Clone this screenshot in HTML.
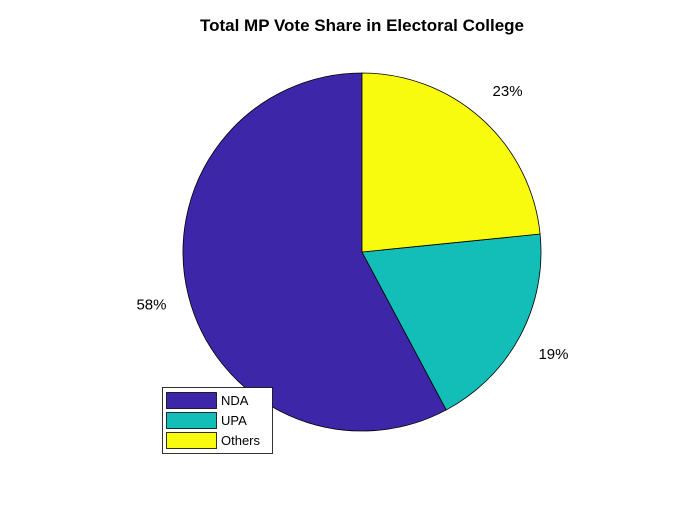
<!DOCTYPE html>
<html><head><meta charset="utf-8"><style>
body{margin:0;background:#fff;width:700px;height:525px;overflow:hidden}
svg{display:block;font-family:"Liberation Sans",Arial,sans-serif}
</style></head><body>
<svg id="chart" width="700" height="525" viewBox="0 0 700 525">
<rect width="700" height="525" fill="#fff"/>
<text x="362" y="31" text-anchor="middle" font-size="17" font-weight="bold">Total MP Vote Share in Electoral College</text>
<g id="slices"></g>
<g id="labels"></g>
<g id="legend"></g>
</svg>
<script>
const categories = ["NDA", "UPA", "Others"];
const values = [57.8, 18.8, 23.4];
const labels = ["58%", "19%", "23%"];
const colors = ["#3E26A8", "#13BEB8", "#F9FB0E"];

const NS = "http://www.w3.org/2000/svg";
const cx = 362, cy = 252, r = 179, lr = 217;
const total = values.reduce((a, b) => a + b, 0);
const sg = document.getElementById("slices");
const lg = document.getElementById("labels");
const leg = document.getElementById("legend");
function pt(a, rad) { return [cx + rad * Math.cos(a), cy - rad * Math.sin(a)]; }
let a0 = Math.PI / 2;
values.forEach((v, i) => {
  const da = v / total * 2 * Math.PI;
  const a1 = a0 + da;
  const p0 = pt(a0, r), p1 = pt(a1, r);
  const large = da > Math.PI ? 1 : 0;
  const path = document.createElementNS(NS, "path");
  path.setAttribute("d", `M${cx},${cy} L${p0[0]},${p0[1]} A${r},${r} 0 ${large} 0 ${p1[0]},${p1[1]} Z`);
  path.setAttribute("fill", colors[i]);
  path.setAttribute("stroke", "#000");
  path.setAttribute("stroke-width", "0.8");
  
  
  sg.appendChild(path);
  const m = (a0 + a1) / 2;
  const lp = pt(m, lr);
  const t = document.createElementNS(NS, "text");
  t.setAttribute("x", lp[0]); t.setAttribute("y", lp[1] + 5);
  t.setAttribute("text-anchor", "middle");
  t.setAttribute("font-size", "15");
  t.textContent = labels[i];
  
  
  lg.appendChild(t);
  a0 = a1;
});
const box = document.createElementNS(NS, "rect");
box.setAttribute("x", 162.5); box.setAttribute("y", 387.5);
box.setAttribute("width", 110); box.setAttribute("height", 66);
box.setAttribute("fill", "#fff"); box.setAttribute("stroke", "#000"); box.setAttribute("stroke-width", "0.8");


leg.appendChild(box);
categories.forEach((c, i) => {
  const y = 392 + i * 20;
  const s = document.createElementNS(NS, "rect");
  s.setAttribute("x", 166.5); s.setAttribute("y", y + 0.5);
  s.setAttribute("width", 50); s.setAttribute("height", 16);
  s.setAttribute("fill", colors[i]); s.setAttribute("stroke", "#000"); s.setAttribute("stroke-width", "0.8");
  
  
  leg.appendChild(s);
  const t = document.createElementNS(NS, "text");
  t.setAttribute("x", 221); t.setAttribute("y", y + 13);
  t.setAttribute("font-size", "13");
  t.textContent = c;
  
  
  leg.appendChild(t);
});
</script>
</body></html>
